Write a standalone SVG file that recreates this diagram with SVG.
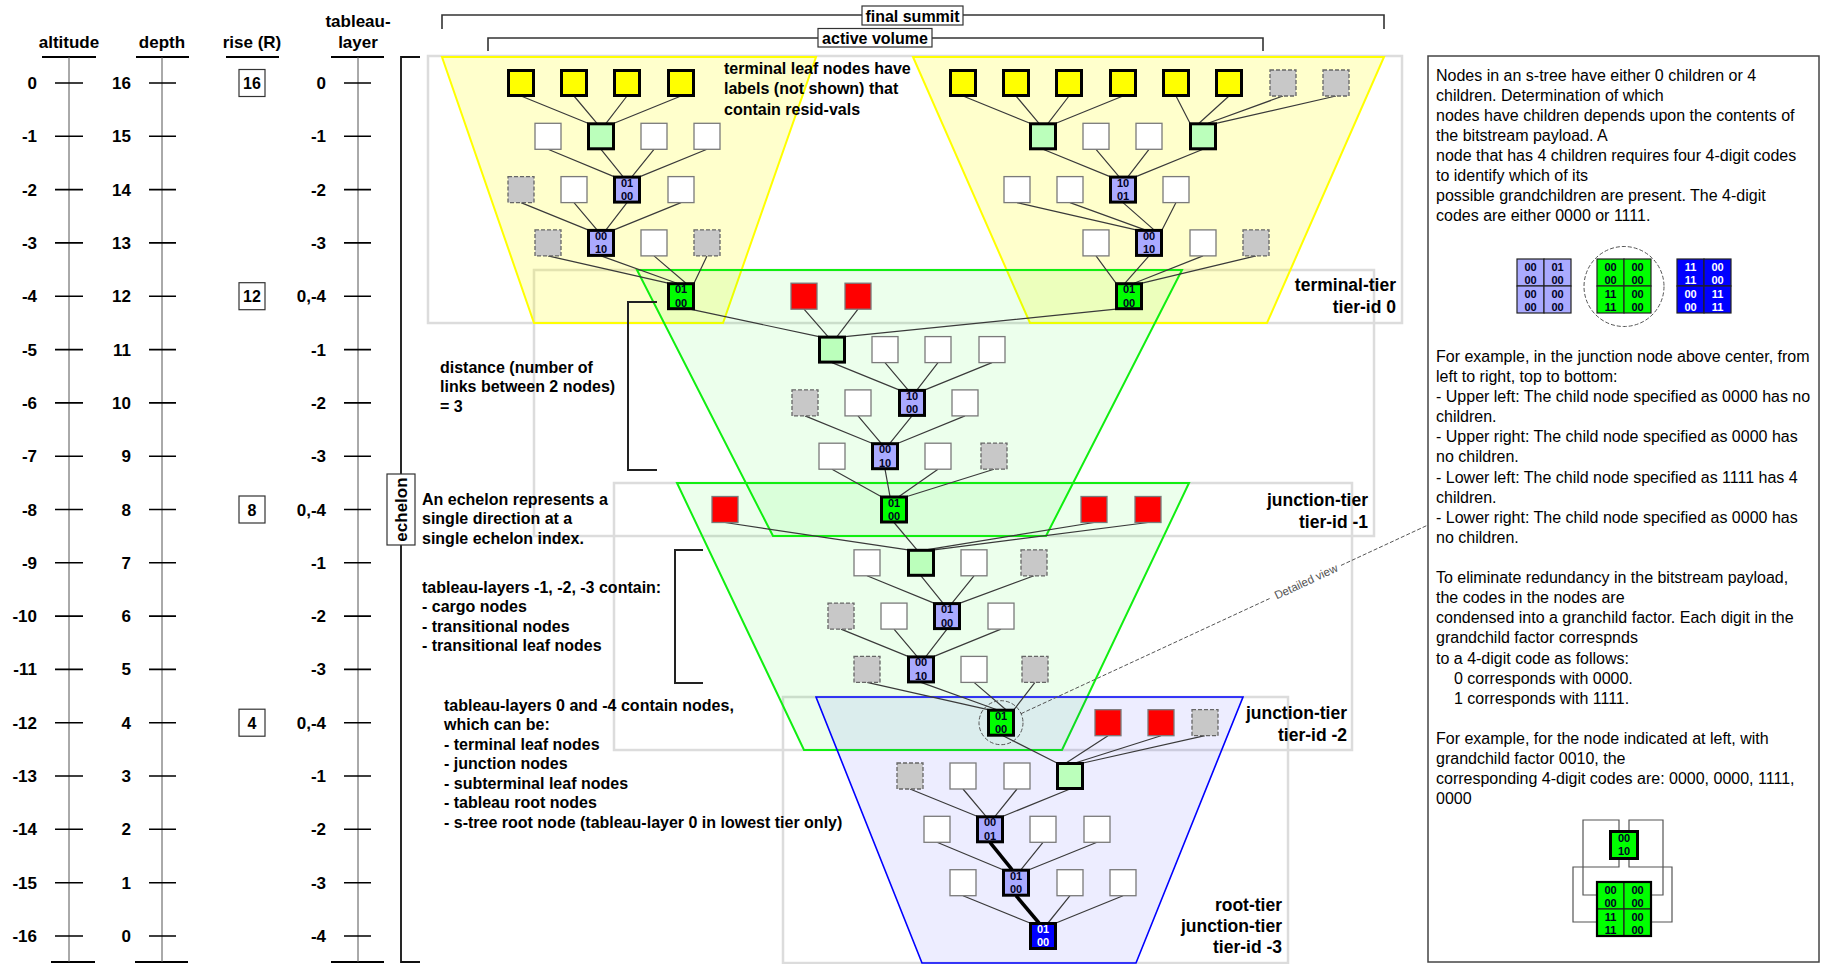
<svg xmlns="http://www.w3.org/2000/svg" xmlns:xlink="http://www.w3.org/1999/xlink" width="1823" height="964" viewBox="0 0 1823 964">
<style>
  text { font-family: 'Liberation Sans', Arial, Helvetica, sans-serif; fill: #000; }
  .b16 { font-weight: bold; font-size: 16px; }
  .ax { font-weight: bold; font-size: 17px; }
  .axn { font-weight: bold; font-size: 17px; text-anchor: end; }
  .hd { font-weight: bold; font-size: 17px; text-anchor: middle; }
  .tier { font-weight: bold; font-size: 17.5px; text-anchor: end; }
  .pn { font-size: 16px; }
  .nt { font-weight: bold; font-size: 11px; text-anchor: middle; fill: #000022; }
  .ntw { font-weight: bold; font-size: 11px; text-anchor: middle; fill: #fff; }
  .w { fill: #fff; stroke: #7a7a7a; stroke-width: 1.3; }
  .g { fill: #c8c8c8; stroke: #666; stroke-width: 1.3; stroke-dasharray: 4 2; }
  .r { fill: #f00; stroke: #7a7a7a; stroke-width: 1.3; }
  .y { fill: #ff0; stroke: #000; stroke-width: 3; }
  .lg { fill: #bbffbb; stroke: #000; stroke-width: 3; }
  .lv { fill: #aaaaff; stroke: #000; stroke-width: 3; }
  .gr { fill: #00ff00; stroke: #000; stroke-width: 3; }
  .db { fill: #0000ff; stroke: #000; stroke-width: 3; }
  .e { stroke: #3a3a3a; stroke-width: 1.2; fill: none; }
  .et { stroke: #000; stroke-width: 3.5; fill: none; }
  .tr { fill: none; stroke: #dcdcdc; stroke-width: 2.5; }
  .axis { stroke: #555; stroke-width: 1; }
  .tick { stroke: #000; stroke-width: 1.6; }
  .hl { stroke: #000; stroke-width: 2; }
  .brk { fill: none; stroke: #222; stroke-width: 2; }
  .dash { fill: none; stroke: #555; stroke-width: 1; stroke-dasharray: 4 2; }
  .cell { stroke: #222; stroke-width: 1.2; }
  .wire { fill: none; stroke: #555; stroke-width: 1.2; }
</style>
<defs>
  <rect id="sW" class="w" x="-13" y="-13" width="26" height="26"/>
  <rect id="sG" class="g" x="-13" y="-13" width="26" height="26"/>
  <rect id="sR" class="r" x="-13" y="-13" width="26" height="26"/>
  <rect id="sY" class="y" x="-12.5" y="-12.5" width="25" height="25"/>
  <rect id="sL" class="lg" x="-12.5" y="-12.5" width="25" height="25"/>
  <rect id="sV" class="lv" x="-12.5" y="-12.5" width="25" height="25"/>
  <rect id="sN" class="gr" x="-12.5" y="-12.5" width="25" height="25"/>
  <rect id="sB" class="db" x="-12.5" y="-12.5" width="25" height="25"/>
</defs>
<rect width="1823" height="964" fill="#fff"/>

<!-- scales on the left -->
<g id="scales">
  <text class="hd" x="69" y="48">altitude</text>
  <text class="hd" x="162" y="48">depth</text>
  <text class="hd" x="252" y="48">rise (R)</text>
  <text class="hd" x="358" y="27">tableau-</text>
  <text class="hd" x="358" y="48">layer</text>
  <line class="hl" x1="42" y1="57" x2="96" y2="57"/>
  <line class="hl" x1="136" y1="57" x2="189" y2="57"/>
  <line class="hl" x1="226" y1="57" x2="279" y2="57"/>
  <line class="hl" x1="331" y1="57" x2="384" y2="57"/>
  <line class="hl" x1="51" y1="962" x2="95" y2="962"/>
  <line class="hl" x1="135" y1="962" x2="188" y2="962"/>
  <line class="hl" x1="331" y1="962" x2="384" y2="962"/>
  <line class="axis" x1="69" y1="57" x2="69" y2="962"/>
  <line class="axis" x1="162" y1="57" x2="162" y2="962"/>
  <line class="axis" x1="358" y1="57" x2="358" y2="962"/>
  <g id="ticks">
    <path class="tick" d="M55,83H83M55,136.3H83M55,189.6H83M55,242.9H83M55,296.2H83M55,349.6H83M55,402.9H83M55,456.2H83M55,509.5H83M55,562.8H83M55,616.1H83M55,669.4H83M55,722.7H83M55,776H83M55,829.3H83M55,882.7H83M55,936H83"/>
    <path class="tick" d="M149,83H176M149,136.3H176M149,189.6H176M149,242.9H176M149,296.2H176M149,349.6H176M149,402.9H176M149,456.2H176M149,509.5H176M149,562.8H176M149,616.1H176M149,669.4H176M149,722.7H176M149,776H176M149,829.3H176M149,882.7H176M149,936H176"/>
    <path class="tick" d="M344,83H371M344,136.3H371M344,189.6H371M344,242.9H371M344,296.2H371M344,349.6H371M344,402.9H371M344,456.2H371M344,509.5H371M344,562.8H371M344,616.1H371M344,669.4H371M344,722.7H371M344,776H371M344,829.3H371M344,882.7H371M344,936H371"/>
  </g>
  <g id="altitude-values">
    <text class="axn" x="37" y="89">0</text>
    <text class="axn" x="37" y="142.3">-1</text>
    <text class="axn" x="37" y="195.6">-2</text>
    <text class="axn" x="37" y="248.9">-3</text>
    <text class="axn" x="37" y="302.2">-4</text>
    <text class="axn" x="37" y="355.6">-5</text>
    <text class="axn" x="37" y="408.9">-6</text>
    <text class="axn" x="37" y="462.2">-7</text>
    <text class="axn" x="37" y="515.5">-8</text>
    <text class="axn" x="37" y="568.8">-9</text>
    <text class="axn" x="37" y="622.1">-10</text>
    <text class="axn" x="37" y="675.4">-11</text>
    <text class="axn" x="37" y="728.7">-12</text>
    <text class="axn" x="37" y="782">-13</text>
    <text class="axn" x="37" y="835.3">-14</text>
    <text class="axn" x="37" y="888.7">-15</text>
    <text class="axn" x="37" y="942">-16</text>
  </g>
  <g id="depth-values">
    <text class="axn" x="131" y="89">16</text>
    <text class="axn" x="131" y="142.3">15</text>
    <text class="axn" x="131" y="195.6">14</text>
    <text class="axn" x="131" y="248.9">13</text>
    <text class="axn" x="131" y="302.2">12</text>
    <text class="axn" x="131" y="355.6">11</text>
    <text class="axn" x="131" y="408.9">10</text>
    <text class="axn" x="131" y="462.2">9</text>
    <text class="axn" x="131" y="515.5">8</text>
    <text class="axn" x="131" y="568.8">7</text>
    <text class="axn" x="131" y="622.1">6</text>
    <text class="axn" x="131" y="675.4">5</text>
    <text class="axn" x="131" y="728.7">4</text>
    <text class="axn" x="131" y="782">3</text>
    <text class="axn" x="131" y="835.3">2</text>
    <text class="axn" x="131" y="888.7">1</text>
    <text class="axn" x="131" y="942">0</text>
  </g>
  <g id="rise-values">
    <rect x="239" y="69.5" width="26" height="27" fill="#fff" stroke="#333" stroke-width="1.2"/>
    <text class="hd" x="252" y="89" style="font-size:16px">16</text>
    <rect x="239" y="282.7" width="26" height="27" fill="#fff" stroke="#333" stroke-width="1.2"/>
    <text class="hd" x="252" y="302.2" style="font-size:16px">12</text>
    <rect x="239" y="496" width="26" height="27" fill="#fff" stroke="#333" stroke-width="1.2"/>
    <text class="hd" x="252" y="515.5" style="font-size:16px">8</text>
    <rect x="239" y="709.2" width="26" height="27" fill="#fff" stroke="#333" stroke-width="1.2"/>
    <text class="hd" x="252" y="728.7" style="font-size:16px">4</text>
  </g>
  <g id="layer-values">
    <text class="axn" x="326" y="89">0</text>
    <text class="axn" x="326" y="142.3">-1</text>
    <text class="axn" x="326" y="195.6">-2</text>
    <text class="axn" x="326" y="248.9">-3</text>
    <text class="axn" x="326" y="302.2">0,-4</text>
    <text class="axn" x="326" y="355.6">-1</text>
    <text class="axn" x="326" y="408.9">-2</text>
    <text class="axn" x="326" y="462.2">-3</text>
    <text class="axn" x="326" y="515.5">0,-4</text>
    <text class="axn" x="326" y="568.8">-1</text>
    <text class="axn" x="326" y="622.1">-2</text>
    <text class="axn" x="326" y="675.4">-3</text>
    <text class="axn" x="326" y="728.7">0,-4</text>
    <text class="axn" x="326" y="782">-1</text>
    <text class="axn" x="326" y="835.3">-2</text>
    <text class="axn" x="326" y="888.7">-3</text>
    <text class="axn" x="326" y="942">-4</text>
  </g>
</g>

<!-- echelon bracket -->
<g id="echelon">
  <path d="M420,57H401V962H420" fill="none" stroke="#111" stroke-width="1.8"/>
  <rect x="387" y="474" width="28" height="71" fill="#fff" stroke="#333" stroke-width="1.2"/>
  <text class="hd" transform="translate(401,509.5) rotate(-90)" x="0" y="6">echelon</text>
</g>

<!-- summit / volume brackets -->
<g id="final-summit">
  <path d="M442,29V15H1384V29" fill="none" stroke="#333" stroke-width="1.6"/>
  <rect x="862" y="6" width="101" height="19" fill="#fff" stroke="#333" stroke-width="1.2"/>
  <text class="b16" x="912.5" y="21.5" text-anchor="middle">final summit</text>
</g>
<g id="active-volume">
  <path d="M488,51V38H1263V51" fill="none" stroke="#333" stroke-width="1.6"/>
  <rect x="818" y="28.5" width="114" height="18.5" fill="#fff" stroke="#333" stroke-width="1.2"/>
  <text class="b16" x="875" y="43.5" text-anchor="middle">active volume</text>
</g>

<!-- tier frames -->
<g id="tier-frames">
  <rect class="tr" x="428" y="56" width="974" height="267"/>
  <rect class="tr" x="534" y="270" width="840" height="266"/>
  <rect class="tr" x="614" y="483" width="738" height="267"/>
  <rect class="tr" x="783" y="697" width="505" height="266"/>
</g>

<!-- tableaux -->
<g id="tableaux">
  <polygon points="442,57 816,57 723,323 534,323" fill="#ffff00" fill-opacity="0.2" stroke="#ffff00" stroke-width="2"/>
  <polygon points="913,57 1384,57 1267,323 1030,323" fill="#ffff00" fill-opacity="0.2" stroke="#ffff00" stroke-width="2"/>
  <polygon points="637,270 1182,270 1046,536 773,536" fill="#00ff00" fill-opacity="0.075" stroke="#11ee11" stroke-width="2"/>
  <polygon points="677,483 1189,483 1062,750 804,750" fill="#00ff00" fill-opacity="0.075" stroke="#11ee11" stroke-width="2"/>
  <polygon points="816,697 1243,697 1136,963 922,963" fill="#0000ff" fill-opacity="0.07" stroke="#0000ff" stroke-width="1.6"/>
</g>

<!-- tier labels -->
<g id="tier-labels">
  <text class="tier" x="1396" y="291">terminal-tier</text>
  <text class="tier" x="1396" y="313">tier-id 0</text>
  <text class="tier" x="1368" y="506">junction-tier</text>
  <text class="tier" x="1368" y="528">tier-id -1</text>
  <text class="tier" x="1347" y="719">junction-tier</text>
  <text class="tier" x="1347" y="741">tier-id -2</text>
  <text class="tier" x="1282" y="911">root-tier</text>
  <text class="tier" x="1282" y="932">junction-tier</text>
  <text class="tier" x="1282" y="953">tier-id -3</text>
</g>

<!-- explanatory notes -->
<g id="notes">
  <text class="b16" x="724" y="73.5">terminal leaf nodes have</text>
  <text class="b16" x="724" y="94">labels (not shown) that</text>
  <text class="b16" x="724" y="114.5">contain resid-vals</text>
  <text class="b16" x="440" y="372.5">distance (number of</text>
  <text class="b16" x="440" y="392">links between 2 nodes)</text>
  <text class="b16" x="440" y="411.5">= 3</text>
  <path class="brk" d="M657,302H628V470H657"/>
  <text class="b16" x="422" y="504.5">An echelon represents a</text>
  <text class="b16" x="422" y="524">single direction at a</text>
  <text class="b16" x="422" y="543.5">single echelon index.</text>
  <path class="brk" d="M703,550H675V683H703"/>
  <text class="b16" x="422" y="592.5">tableau-layers -1, -2, -3 contain:</text>
  <text class="b16" x="422" y="612">- cargo nodes</text>
  <text class="b16" x="422" y="631.5">- transitional nodes</text>
  <text class="b16" x="422" y="651">- transitional leaf nodes</text>
  <text class="b16" x="444" y="710.5">tableau-layers 0 and -4 contain nodes,</text>
  <text class="b16" x="444" y="730">which can be:</text>
  <text class="b16" x="444" y="749.5">- terminal leaf nodes</text>
  <text class="b16" x="444" y="769">- junction nodes</text>
  <text class="b16" x="444" y="788.5">- subterminal leaf nodes</text>
  <text class="b16" x="444" y="808">- tableau root nodes</text>
  <text class="b16" x="444" y="827.5">- s-tree root node (tableau-layer 0 in lowest tier only)</text>
</g>

<!-- links between parent and child nodes -->
<g id="connectors">
  <path class="e" d="M521,96L588,123.3M574,96L597,123.3M627,96L606,123.3M681,96L614,123.3"/>
  <path class="e" d="M548,149.3L614,176.6M601,149.3L623,176.6M654,149.3L632,176.6M707,149.3L640,176.6"/>
  <path class="e" d="M521,202.6L588,229.9M574,202.6L597,229.9M627,202.6L606,229.9M681,202.6L614,229.9"/>
  <path class="e" d="M548,255.9L668,283.2M601,255.9L677,283.2M654,255.9L686,283.2M707,255.9L694,283.2"/>

  <path class="e" d="M963,96L1030,123.3M1016,96L1039,123.3M1069,96L1048,123.3M1123,96L1056,123.3"/>
  <path class="e" d="M1176,96L1190,123.3M1229,96L1199,123.3M1283,96L1208,123.3M1336,96L1216,123.3"/>
  <path class="e" d="M1043,149.3L1110,176.6M1096,149.3L1119,176.6M1149,149.3L1128,176.6M1203,149.3L1136,176.6"/>
  <path class="e" d="M1017,202.6L1136,229.9M1070,202.6L1145,229.9M1123,202.6L1154,229.9M1176,202.6L1162,229.9"/>
  <path class="e" d="M1096,255.9L1116,283.2M1149,255.9L1125,283.2M1203,255.9L1134,283.2M1256,255.9L1142,283.2"/>

  <path class="e" d="M690,309.2L819,336.6M804,309.2L828,336.6M858,309.2L837,336.6M1116,309.2L845,336.6"/>
  <path class="e" d="M832,362.6L899,389.9M885,362.6L908,389.9M938,362.6L917,389.9M992,362.6L925,389.9"/>
  <path class="e" d="M805,415.9L872,443.2M858,415.9L881,443.2M912,415.9L890,443.2M965,415.9L898,443.2"/>
  <path class="e" d="M832,469.2L881,496.5M885,469.2L890,496.5M938,469.2L899,496.5M994,469.2L907,496.5"/>

  <path class="e" d="M725,522.5L908,549.8M894,522.5L917,549.8M1094,522.5L926,549.8M1148,522.5L934,549.8"/>
  <path class="e" d="M867,575.8L934,603.1M921,575.8L943,603.1M974,575.8L952,603.1M1034,575.8L960,603.1"/>
  <path class="e" d="M841,629.1L908,656.4M894,629.1L917,656.4M947,629.1L926,656.4M1001,629.1L934,656.4"/>
  <path class="e" d="M867,682.4L988,709.7M921,682.4L997,709.7M974,682.4L1006,709.7M1035,682.4L1014,709.7"/>

  <path class="e" d="M1003,735.7L1057,763M1108,735.7L1066,763M1161,735.7L1075,763M1205,735.7L1083,763"/>
  <path class="e" d="M910,789L977,816.3M963,789L986,816.3M1017,789L995,816.3M1070,789L1003,816.3"/>
  <path class="e" d="M937,842.3L1003,869.7M1043,842.3L1021,869.7M1097,842.3L1029,869.7"/>
  <path class="et" d="M990,842.3L1012,869.7"/>
  <path class="e" d="M963,895.7L1030,923M1070,895.7L1048,923M1123,895.7L1056,923"/>
  <path class="et" d="M1016,895.7L1039,923"/>
</g>

<!-- terminal tier, left tableau -->
<g id="t0l-0a"><use xlink:href="#sY" x="521" y="83"/></g>
<g id="t0l-0b"><use xlink:href="#sY" x="574" y="83"/></g>
<g id="t0l-0c"><use xlink:href="#sY" x="627" y="83"/></g>
<g id="t0l-0d"><use xlink:href="#sY" x="681" y="83"/></g>
<g id="t0l-1a"><use xlink:href="#sW" x="548" y="136.3"/></g>
<g id="t0l-1b"><use xlink:href="#sL" x="601" y="136.3"/></g>
<g id="t0l-1c"><use xlink:href="#sW" x="654" y="136.3"/></g>
<g id="t0l-1d"><use xlink:href="#sW" x="707" y="136.3"/></g>
<g id="t0l-2a"><use xlink:href="#sG" x="521" y="189.6"/></g>
<g id="t0l-2b"><use xlink:href="#sW" x="574" y="189.6"/></g>
<g id="t0l-2c"><use xlink:href="#sV" x="627" y="189.6"/><text class="nt" x="627" y="186.6">01</text><text class="nt" x="627" y="200">00</text></g>
<g id="t0l-2d"><use xlink:href="#sW" x="681" y="189.6"/></g>
<g id="t0l-3a"><use xlink:href="#sG" x="548" y="242.9"/></g>
<g id="t0l-3b"><use xlink:href="#sV" x="601" y="242.9"/><text class="nt" x="601" y="239.9">00</text><text class="nt" x="601" y="253.3">10</text></g>
<g id="t0l-3c"><use xlink:href="#sW" x="654" y="242.9"/></g>
<g id="t0l-3d"><use xlink:href="#sG" x="707" y="242.9"/></g>
<g id="t0l-root"><use xlink:href="#sN" x="681" y="296.2"/><text class="nt" x="681" y="293.2">01</text><text class="nt" x="681" y="306.6">00</text></g>

<!-- terminal tier, right tableau -->
<g id="t0r-0a"><use xlink:href="#sY" x="963" y="83"/></g>
<g id="t0r-0b"><use xlink:href="#sY" x="1016" y="83"/></g>
<g id="t0r-0c"><use xlink:href="#sY" x="1069" y="83"/></g>
<g id="t0r-0d"><use xlink:href="#sY" x="1123" y="83"/></g>
<g id="t0r-0e"><use xlink:href="#sY" x="1176" y="83"/></g>
<g id="t0r-0f"><use xlink:href="#sY" x="1229" y="83"/></g>
<g id="t0r-0g"><use xlink:href="#sG" x="1283" y="83"/></g>
<g id="t0r-0h"><use xlink:href="#sG" x="1336" y="83"/></g>
<g id="t0r-1a"><use xlink:href="#sL" x="1043" y="136.3"/></g>
<g id="t0r-1b"><use xlink:href="#sW" x="1096" y="136.3"/></g>
<g id="t0r-1c"><use xlink:href="#sW" x="1149" y="136.3"/></g>
<g id="t0r-1d"><use xlink:href="#sL" x="1203" y="136.3"/></g>
<g id="t0r-2a"><use xlink:href="#sW" x="1017" y="189.6"/></g>
<g id="t0r-2b"><use xlink:href="#sW" x="1070" y="189.6"/></g>
<g id="t0r-2c"><use xlink:href="#sV" x="1123" y="189.6"/><text class="nt" x="1123" y="186.6">10</text><text class="nt" x="1123" y="200">01</text></g>
<g id="t0r-2d"><use xlink:href="#sW" x="1176" y="189.6"/></g>
<g id="t0r-3a"><use xlink:href="#sW" x="1096" y="242.9"/></g>
<g id="t0r-3b"><use xlink:href="#sV" x="1149" y="242.9"/><text class="nt" x="1149" y="239.9">00</text><text class="nt" x="1149" y="253.3">10</text></g>
<g id="t0r-3c"><use xlink:href="#sW" x="1203" y="242.9"/></g>
<g id="t0r-3d"><use xlink:href="#sG" x="1256" y="242.9"/></g>
<g id="t0r-root"><use xlink:href="#sN" x="1129" y="296.2"/><text class="nt" x="1129" y="293.2">01</text><text class="nt" x="1129" y="306.6">00</text></g>

<!-- junction tier -1 -->
<g id="t1-4a"><use xlink:href="#sR" x="804" y="296.2"/></g>
<g id="t1-4b"><use xlink:href="#sR" x="858" y="296.2"/></g>
<g id="t1-5a"><use xlink:href="#sL" x="832" y="349.6"/></g>
<g id="t1-5b"><use xlink:href="#sW" x="885" y="349.6"/></g>
<g id="t1-5c"><use xlink:href="#sW" x="938" y="349.6"/></g>
<g id="t1-5d"><use xlink:href="#sW" x="992" y="349.6"/></g>
<g id="t1-6a"><use xlink:href="#sG" x="805" y="402.9"/></g>
<g id="t1-6b"><use xlink:href="#sW" x="858" y="402.9"/></g>
<g id="t1-6c"><use xlink:href="#sV" x="912" y="402.9"/><text class="nt" x="912" y="399.9">10</text><text class="nt" x="912" y="413.3">00</text></g>
<g id="t1-6d"><use xlink:href="#sW" x="965" y="402.9"/></g>
<g id="t1-7a"><use xlink:href="#sW" x="832" y="456.2"/></g>
<g id="t1-7b"><use xlink:href="#sV" x="885" y="456.2"/><text class="nt" x="885" y="453.2">00</text><text class="nt" x="885" y="466.6">10</text></g>
<g id="t1-7c"><use xlink:href="#sW" x="938" y="456.2"/></g>
<g id="t1-7d"><use xlink:href="#sG" x="994" y="456.2"/></g>
<g id="t1-8a"><use xlink:href="#sR" x="725" y="509.5"/></g>
<g id="t1-root"><use xlink:href="#sN" x="894" y="509.5"/><text class="nt" x="894" y="506.5">01</text><text class="nt" x="894" y="519.9">00</text></g>
<g id="t1-8c"><use xlink:href="#sR" x="1094" y="509.5"/></g>
<g id="t1-8d"><use xlink:href="#sR" x="1148" y="509.5"/></g>

<!-- junction tier -2 -->
<g id="t2-9a"><use xlink:href="#sW" x="867" y="562.8"/></g>
<g id="t2-9b"><use xlink:href="#sL" x="921" y="562.8"/></g>
<g id="t2-9c"><use xlink:href="#sW" x="974" y="562.8"/></g>
<g id="t2-9d"><use xlink:href="#sG" x="1034" y="562.8"/></g>
<g id="t2-10a"><use xlink:href="#sG" x="841" y="616.1"/></g>
<g id="t2-10b"><use xlink:href="#sW" x="894" y="616.1"/></g>
<g id="t2-10c"><use xlink:href="#sV" x="947" y="616.1"/><text class="nt" x="947" y="613.1">01</text><text class="nt" x="947" y="626.5">00</text></g>
<g id="t2-10d"><use xlink:href="#sW" x="1001" y="616.1"/></g>
<g id="t2-11a"><use xlink:href="#sG" x="867" y="669.4"/></g>
<g id="t2-11b"><use xlink:href="#sV" x="921" y="669.4"/><text class="nt" x="921" y="666.4">00</text><text class="nt" x="921" y="679.8">10</text></g>
<g id="t2-11c"><use xlink:href="#sW" x="974" y="669.4"/></g>
<g id="t2-11d"><use xlink:href="#sG" x="1035" y="669.4"/></g>
<g id="t2-root"><use xlink:href="#sN" x="1001" y="722.7"/><text class="nt" x="1001" y="719.7">01</text><text class="nt" x="1001" y="733.1">00</text>
  <circle class="dash" cx="1001" cy="722.7" r="22"/></g>

<!-- root tier -3 -->
<g id="t3-12b"><use xlink:href="#sR" x="1108" y="722.7"/></g>
<g id="t3-12c"><use xlink:href="#sR" x="1161" y="722.7"/></g>
<g id="t3-12d"><use xlink:href="#sG" x="1205" y="722.7"/></g>
<g id="t3-13a"><use xlink:href="#sG" x="910" y="776"/></g>
<g id="t3-13b"><use xlink:href="#sW" x="963" y="776"/></g>
<g id="t3-13c"><use xlink:href="#sW" x="1017" y="776"/></g>
<g id="t3-13d"><use xlink:href="#sL" x="1070" y="776"/></g>
<g id="t3-14a"><use xlink:href="#sW" x="937" y="829.3"/></g>
<g id="t3-14b"><use xlink:href="#sV" x="990" y="829.3"/><text class="nt" x="990" y="826.3">00</text><text class="nt" x="990" y="839.7">01</text></g>
<g id="t3-14c"><use xlink:href="#sW" x="1043" y="829.3"/></g>
<g id="t3-14d"><use xlink:href="#sW" x="1097" y="829.3"/></g>
<g id="t3-15a"><use xlink:href="#sW" x="963" y="882.7"/></g>
<g id="t3-15b"><use xlink:href="#sV" x="1016" y="882.7"/><text class="nt" x="1016" y="879.7">01</text><text class="nt" x="1016" y="893.1">00</text></g>
<g id="t3-15c"><use xlink:href="#sW" x="1070" y="882.7"/></g>
<g id="t3-15d"><use xlink:href="#sW" x="1123" y="882.7"/></g>
<g id="stree-root"><use xlink:href="#sB" x="1043" y="936"/><text class="ntw" x="1043" y="933">01</text><text class="ntw" x="1043" y="946.4">00</text></g>

<!-- pointer to the detailed view -->
<g id="detail-pointer">
  <path class="dash" d="M1021,713.7L1271,597.9M1341,565.4L1428,525"/>
  <text x="1306" y="581.6" dy="4" text-anchor="middle" transform="rotate(-24.9 1306 581.6)" style="font-size:11.5px;fill:#555">Detailed view</text>
</g>

<!-- explanation panel -->
<g id="panel">
  <rect x="1428" y="56" width="391" height="906" fill="#fff" stroke="#444" stroke-width="1.5"/>
  <text class="pn" x="1436" y="81">Nodes in an s-tree have either 0 children or 4</text>
  <text class="pn" x="1436" y="101">children. Determination of which</text>
  <text class="pn" x="1436" y="121">nodes have children depends upon the contents of</text>
  <text class="pn" x="1436" y="141">the bitstream payload. A</text>
  <text class="pn" x="1436" y="161">node that has 4 children requires four 4-digit codes</text>
  <text class="pn" x="1436" y="181">to identify which of its</text>
  <text class="pn" x="1436" y="201">possible grandchildren are present. The 4-digit</text>
  <text class="pn" x="1436" y="221">codes are either 0000 or 1111.</text>

  <g id="code-grid-a">
    <rect class="cell" x="1517" y="259" width="27" height="27" fill="#aaaaff"/>
    <rect class="cell" x="1544" y="259" width="27" height="27" fill="#aaaaff"/>
    <rect class="cell" x="1517" y="286" width="27" height="27" fill="#aaaaff"/>
    <rect class="cell" x="1544" y="286" width="27" height="27" fill="#aaaaff"/>
    <text class="nt" x="1530.5" y="270.7">00</text><text class="nt" x="1530.5" y="284">00</text>
    <text class="nt" x="1557.5" y="270.7">01</text><text class="nt" x="1557.5" y="284">00</text>
    <text class="nt" x="1530.5" y="297.7">00</text><text class="nt" x="1530.5" y="311">00</text>
    <text class="nt" x="1557.5" y="297.7">00</text><text class="nt" x="1557.5" y="311">00</text>
  </g>
  <g id="code-grid-b">
    <rect class="cell" x="1597" y="259" width="27" height="27" fill="#00ff00"/>
    <rect class="cell" x="1624" y="259" width="27" height="27" fill="#00ff00"/>
    <rect class="cell" x="1597" y="286" width="27" height="27" fill="#00ff00"/>
    <rect class="cell" x="1624" y="286" width="27" height="27" fill="#00ff00"/>
    <text class="nt" x="1610.5" y="270.7">00</text><text class="nt" x="1610.5" y="284">00</text>
    <text class="nt" x="1637.5" y="270.7">00</text><text class="nt" x="1637.5" y="284">00</text>
    <text class="nt" x="1610.5" y="297.7">11</text><text class="nt" x="1610.5" y="311">11</text>
    <text class="nt" x="1637.5" y="297.7">00</text><text class="nt" x="1637.5" y="311">00</text>
    <circle class="dash" cx="1624" cy="286.5" r="40"/>
  </g>
  <g id="code-grid-c">
    <rect class="cell" x="1677" y="259" width="27" height="27" fill="#0000ff"/>
    <rect class="cell" x="1704" y="259" width="27" height="27" fill="#0000ff"/>
    <rect class="cell" x="1677" y="286" width="27" height="27" fill="#0000ff"/>
    <rect class="cell" x="1704" y="286" width="27" height="27" fill="#0000ff"/>
    <text class="ntw" x="1690.5" y="270.7">11</text><text class="ntw" x="1690.5" y="284">11</text>
    <text class="ntw" x="1717.5" y="270.7">00</text><text class="ntw" x="1717.5" y="284">00</text>
    <text class="ntw" x="1690.5" y="297.7">00</text><text class="ntw" x="1690.5" y="311">00</text>
    <text class="ntw" x="1717.5" y="297.7">11</text><text class="ntw" x="1717.5" y="311">11</text>
  </g>

  <text class="pn" x="1436" y="362">For example, in the junction node above center, from</text>
  <text class="pn" x="1436" y="382">left to right, top to bottom:</text>
  <text class="pn" x="1436" y="402">- Upper left: The child node specified as 0000 has no</text>
  <text class="pn" x="1436" y="422">children.</text>
  <text class="pn" x="1436" y="442">- Upper right: The child node specified as 0000 has</text>
  <text class="pn" x="1436" y="462">no children.</text>
  <text class="pn" x="1436" y="482.5">- Lower left: The child node specified as 1111 has 4</text>
  <text class="pn" x="1436" y="502.5">children.</text>
  <text class="pn" x="1436" y="522.5">- Lower right: The child node specified as 0000 has</text>
  <text class="pn" x="1436" y="542.5">no children.</text>
  <text class="pn" x="1436" y="583">To eliminate redundancy in the bitstream payload,</text>
  <text class="pn" x="1436" y="603">the codes in the nodes are</text>
  <text class="pn" x="1436" y="623">condensed into a granchild factor. Each digit in the</text>
  <text class="pn" x="1436" y="643">grandchild factor correspnds</text>
  <text class="pn" x="1436" y="663.5">to a 4-digit code as follows:</text>
  <text class="pn" x="1454" y="683.5">0 corresponds with 0000.</text>
  <text class="pn" x="1454" y="703.5">1 corresponds with 1111.</text>
  <text class="pn" x="1436" y="744">For example, for the node indicated at left, with</text>
  <text class="pn" x="1436" y="764">grandchild factor 0010, the</text>
  <text class="pn" x="1436" y="784">corresponding 4-digit codes are: 0000, 0000, 1111,</text>
  <text class="pn" x="1436" y="804">0000</text>

  <g id="factor-example">
    <path class="wire" d="M1619,831V820H1583V895H1597"/>
    <path class="wire" d="M1629,831V820H1663V895H1651"/>
    <path class="wire" d="M1619,859V867H1573V922H1597"/>
    <path class="wire" d="M1629,859V867H1672V922H1651"/>
    <rect x="1610.5" y="831.5" width="27" height="27" fill="#00ff00" stroke="#000" stroke-width="3"/>
    <text class="nt" x="1624" y="842">00</text><text class="nt" x="1624" y="855">10</text>
    <rect class="cell" x="1597" y="882" width="27" height="27" fill="#00ff00"/>
    <rect class="cell" x="1624" y="882" width="27" height="27" fill="#00ff00"/>
    <rect class="cell" x="1597" y="909" width="27" height="27" fill="#00ff00"/>
    <rect class="cell" x="1624" y="909" width="27" height="27" fill="#00ff00"/>
    <rect x="1597" y="882" width="54" height="54" fill="none" stroke="#000" stroke-width="2.2"/>
    <text class="nt" x="1610.5" y="893.7">00</text><text class="nt" x="1610.5" y="906.5">00</text>
    <text class="nt" x="1637.5" y="893.7">00</text><text class="nt" x="1637.5" y="906.5">00</text>
    <text class="nt" x="1610.5" y="920.7">11</text><text class="nt" x="1610.5" y="933.5">11</text>
    <text class="nt" x="1637.5" y="920.7">00</text><text class="nt" x="1637.5" y="933.5">00</text>
  </g>
</g>
</svg>
